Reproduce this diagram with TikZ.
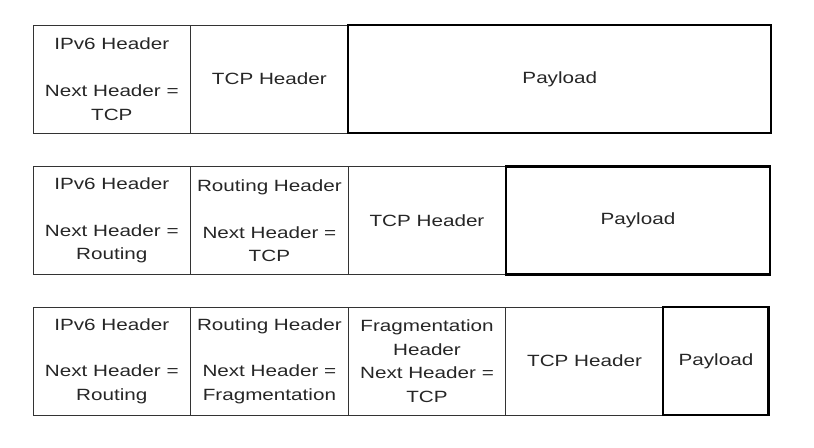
\documentclass[tikz,border=0pt]{standalone}
\usepackage{fontspec}
\newfontfamily\cellfont[FakeStretch=1.27]{Liberation Sans}
\usetikzlibrary{positioning}

\begin{document}
\begin{tikzpicture}[x=0.75pt,y=-0.75pt,node distance=0pt,
    cell/.style={draw=black!80,line width=0.7pt,outer sep=0pt,inner sep=0pt,
        minimum width=118.2pt,minimum height=81pt,align=center,
        font=\cellfont\fontsize{12.2}{17.6}\selectfont,text=black!85},
    load/.style={cell,line width=1.6pt,draw=black}]
\useasboundingbox (0,0) rectangle (814,447);
% only TCP
\node[cell,anchor=north west] (ipa) at (33,25) {IPv6 Header\\[17.6pt]Next Header =\\TCP};
\node[cell,right=of ipa] (tcpa) {TCP Header};
\node[load,minimum width=317.4pt,right=of tcpa] (loada) {Payload};
% with routing header
\node[cell,anchor=north west] (ipb) at (33,166.5) {IPv6 Header\\[17.6pt]Next Header =\\Routing};
\node[cell,right=of ipb] (rtb) {Routing Header\\[17.6pt]Next Header =\\TCP};
\node[cell,right=of rtb] (tcpb) {TCP Header};
\node[load,minimum width=198.2pt,right=of tcpb] (loadb) {Payload};
% with routing and fragmentation headers
\node[cell,anchor=north west] (ipc) at (33,307) {IPv6 Header\\[17.6pt]Next Header =\\Routing};
\node[cell,right=of ipc] (rtc) {Routing Header\\[17.6pt]Next Header =\\Fragmentation};
\node[cell,right=of rtc] (frc) {Fragmentation\\Header\\Next Header =\\TCP};
\node[cell,right=of frc] (tcpc) {TCP Header};
\node[load,minimum width=78.8pt,right=of tcpc] (loadc) {Payload};
\end{tikzpicture}
\end{document}
